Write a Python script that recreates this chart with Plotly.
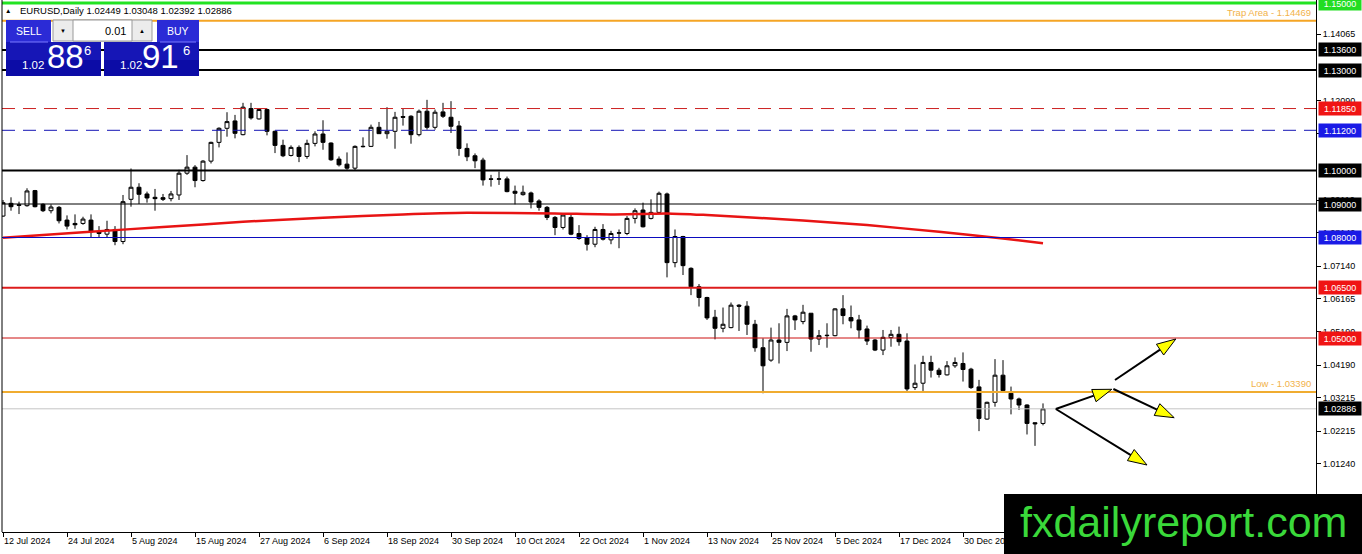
import plotly.graph_objects as go
import pandas as pd

# ---------------- data ----------------
header_text = "EURUSD,Daily 1.02449 1.03048 1.02392 1.02886"

trade_days = [d for d in pd.bdate_range("2024-07-12", "2025-01-14")
              if d.strftime("%m-%d") not in ("12-25", "01-01")]
bar_idx = list(range(len(trade_days)))

opens = [1.0864, 1.0902, 1.0898, 1.0895, 1.0940, 1.0899, 1.0880, 1.0890, 1.0852, 1.0842,
         1.0842, 1.0852, 1.0817, 1.0810, 1.0824, 1.0788, 1.0914, 1.0950, 1.0930, 1.0920,
         1.0919, 1.0916, 1.0927, 1.0992, 1.1010, 1.0970, 1.1028, 1.1084, 1.1126, 1.1148,
         1.1107, 1.1185, 1.1154, 1.1182, 1.1117, 1.1075, 1.1045, 1.1069, 1.1042, 1.1081,
         1.1109, 1.1082, 1.1034, 1.1019, 1.1007, 1.1071, 1.1072, 1.1129, 1.1110, 1.1117,
         1.1161, 1.1162, 1.1107, 1.1177, 1.1129, 1.1175, 1.1159, 1.1133, 1.1066, 1.1044,
         1.1031, 1.0975, 1.0974, 1.0975, 1.0938, 1.0928, 1.0933, 1.0909, 1.0890, 1.0860,
         1.0830, 1.0860, 1.0812, 1.0800, 1.0780, 1.0824, 1.0793, 1.0813, 1.0812, 1.0857,
         1.0882, 1.0857, 1.0875, 1.0930, 1.0725, 1.0803, 1.0708, 1.0653, 1.0621, 1.0562,
         1.0529, 1.0531, 1.0598, 1.0595, 1.0541, 1.0471, 1.0434, 1.0494, 1.0487, 1.0566,
         1.0549, 1.0574, 1.0497, 1.0507, 1.0507, 1.0587, 1.0561, 1.0554, 1.0527, 1.0494,
         1.0464, 1.0501, 1.0511, 1.0491, 1.0352, 1.0365, 1.0427, 1.0404, 1.0390, 1.0417,
         1.0424, 1.0407, 1.0354, 1.0258, 1.0308, 1.0389, 1.0335, 1.0318, 1.0300, 1.0247,
         1.02449]
highs = [1.0912, 1.0920, 1.0907, 1.0947, 1.0942, 1.0902, 1.0899, 1.0894, 1.0866, 1.0869,
         1.0862, 1.0869, 1.0834, 1.0850, 1.0834, 1.0927, 1.1006, 1.0962, 1.0937, 1.0945,
         1.0930, 1.0939, 1.1002, 1.1046, 1.1016, 1.1031, 1.1086, 1.1129, 1.1174, 1.1166,
         1.1202, 1.1202, 1.1185, 1.1185, 1.1119, 1.1092, 1.1075, 1.1075, 1.1092, 1.1117,
         1.1150, 1.1084, 1.1042, 1.1054, 1.1075, 1.1099, 1.1137, 1.1145, 1.1189, 1.1175,
         1.1184, 1.1165, 1.1182, 1.1211, 1.1182, 1.1202, 1.1207, 1.1148, 1.1081, 1.1051,
         1.1038, 1.0987, 1.0997, 1.0982, 1.0955, 1.0955, 1.0937, 1.0914, 1.0894, 1.0864,
         1.0870, 1.0867, 1.0837, 1.0807, 1.0832, 1.0840, 1.0820, 1.0824, 1.0864, 1.0887,
         1.0904, 1.0914, 1.0937, 1.0934, 1.0824, 1.0805, 1.0711, 1.0661, 1.0623, 1.0584,
         1.0591, 1.0606, 1.0601, 1.0610, 1.0554, 1.0499, 1.0531, 1.0544, 1.0587, 1.0569,
         1.0599, 1.0574, 1.0524, 1.0544, 1.0589, 1.0628, 1.0597, 1.0569, 1.0537, 1.0497,
         1.0524, 1.0524, 1.0534, 1.0514, 1.0421, 1.0447, 1.0447, 1.0411, 1.0431, 1.0442,
         1.0457, 1.0411, 1.0375, 1.0310, 1.0437, 1.0434, 1.0355, 1.0322, 1.0302, 1.0248,
         1.03048]
lows = [1.0862, 1.0880, 1.0870, 1.0892, 1.0890, 1.0876, 1.0872, 1.0842, 1.0824, 1.0826,
        1.0838, 1.0800, 1.0800, 1.0800, 1.0777, 1.0780, 1.0892, 1.0900, 1.0904, 1.0880,
        1.0909, 1.0908, 1.0912, 1.0987, 1.0950, 1.0967, 1.1021, 1.1069, 1.1101, 1.1096,
        1.1105, 1.1152, 1.1152, 1.1105, 1.1052, 1.1040, 1.1042, 1.1025, 1.1035, 1.1072,
        1.1062, 1.1029, 1.1012, 1.1002, 1.1000, 1.1069, 1.1070, 1.1109, 1.1095, 1.1065,
        1.1134, 1.1080, 1.1102, 1.1122, 1.1122, 1.1157, 1.1112, 1.1044, 1.1028, 1.1007,
        1.0955, 1.0952, 1.0957, 1.0935, 1.0899, 1.0925, 1.0887, 1.0880, 1.0852, 1.0807,
        1.0824, 1.0807, 1.0793, 1.0761, 1.0771, 1.0791, 1.0780, 1.0768, 1.0807, 1.0842,
        1.0830, 1.0854, 1.0872, 1.0681, 1.0711, 1.0688, 1.0628, 1.0594, 1.0554, 1.0496,
        1.0517, 1.0529, 1.0521, 1.0509, 1.0459, 1.0335, 1.0429, 1.0424, 1.0461, 1.0524,
        1.0541, 1.0459, 1.0479, 1.0471, 1.0505, 1.0541, 1.0529, 1.0499, 1.0479, 1.0461,
        1.0449, 1.0474, 1.0477, 1.0342, 1.0345, 1.0342, 1.0382, 1.0382, 1.0388, 1.0411,
        1.0370, 1.0348, 1.0222, 1.0256, 1.0295, 1.0338, 1.0272, 1.0285, 1.0212, 1.0178,
        1.02392]
closes = [1.0904, 1.0892, 1.0896, 1.0939, 1.0892, 1.0880, 1.0891, 1.0850, 1.0834, 1.0838,
          1.0855, 1.0817, 1.0812, 1.0824, 1.0788, 1.0907, 1.0950, 1.0929, 1.0918, 1.0916,
          1.0914, 1.0930, 1.0992, 1.1010, 1.0970, 1.1028, 1.1084, 1.1126, 1.1146, 1.1111,
          1.1189, 1.1157, 1.1182, 1.1117, 1.1075, 1.1044, 1.1069, 1.1042, 1.1081, 1.1109,
          1.1084, 1.1032, 1.1017, 1.1007, 1.1072, 1.1072, 1.1129, 1.1110, 1.1117, 1.1159,
          1.1159, 1.1107, 1.1177, 1.1129, 1.1174, 1.1162, 1.1132, 1.1066, 1.1041, 1.1029,
          1.0972, 1.0974, 1.0975, 1.0937, 1.0932, 1.0935, 1.0906, 1.0890, 1.0860, 1.0830,
          1.0867, 1.0810, 1.0797, 1.0780, 1.0824, 1.0795, 1.0812, 1.0814, 1.0857, 1.0880,
          1.0832, 1.0875, 1.0932, 1.0725, 1.0803, 1.0716, 1.0653, 1.0621, 1.0560, 1.0529,
          1.0541, 1.0598, 1.0595, 1.0541, 1.0471, 1.0417, 1.0494, 1.0487, 1.0566, 1.0554,
          1.0577, 1.0497, 1.0507, 1.0508, 1.0587, 1.0567, 1.0551, 1.0524, 1.0491, 1.0464,
          1.0502, 1.0511, 1.0489, 1.0348, 1.0365, 1.0427, 1.0404, 1.0391, 1.0417, 1.0427,
          1.0406, 1.0352, 1.0260, 1.0308, 1.0389, 1.0343, 1.0318, 1.0300, 1.0245, 1.0244,
          1.02886]

# moving average (read at a few bars)
ma_bar = [0, 10, 20, 30, 40, 50, 58, 69, 76, 83, 88, 100, 108, 117, 125, 130]
ma_val = [1.0799, 1.0816, 1.0831, 1.0847, 1.0859, 1.0869, 1.0874, 1.0872, 1.0869,
          1.0872, 1.0867, 1.0851, 1.0837, 1.0817, 1.0797, 1.0783]

# horizontal levels
level_price = [1.15000, 1.14469, 1.13600, 1.13000, 1.11850, 1.11200, 1.10000,
               1.09000, 1.08000, 1.06500, 1.05000, 1.03390, 1.02886]
level_color = ["#22e322", "#f5a524", "#000000", "#000000", "#cc2020", "#1414b4",
               "#000000", "#000000", "#0b0bbf", "#dd1c1c", "#cc1111", "#f0ac30", "#c4c4c4"]
level_width = [3, 2, 2, 2, 1, 1, 2, 1, 1, 2, 1, 2, 1]
level_dash = ["solid", "solid", "solid", "solid", "13px,8px", "13px,8px", "solid",
              "solid", "solid", "solid", "solid", "solid", "solid"]
level_box = ["#22dd22", None, "#000000", "#000000", "#f01414", "#1a1ae6", "#000000",
             "#000000", "#1a1ae6", "#f01414", "#f01414", None, "#000000"]
level_note = {1.14469: "Trap Area - 1.14469", 1.03390: "Low - 1.03390"}

y_ticks = [1.14065, 1.12090, 1.11095, 1.09110, 1.08140, 1.07140,
           1.06165, 1.05190, 1.04190, 1.03215, 1.02215, 1.01240]

# projected paths (bar index, price)
arrows = [((131.6, 1.02881), (138.6, 1.03469)),
          ((139.0, 1.03746), (146.6, 1.04970)),
          ((138.8, 1.03478), (146.4, 1.02621)),
          ((131.6, 1.02881), (143.0, 1.01209))]

# ---------------- layout geometry ----------------
W, H = 1362, 554
PL, PR, PT, PB = 2, 1316, 0, 532
XR = [-0.125, 164.125]
YR = [0.99209, 1.15090]
FONT = "Liberation Sans, Arial, sans-serif"

def fx(X):
    return (X - PL) / (PR - PL)

def fy(Y):
    return (PB - Y) / (PB - PT)

def to_px(i, p):
    X = PL + (i - XR[0]) / (XR[1] - XR[0]) * (PR - PL)
    Y = PB - (p - YR[0]) / (YR[1] - YR[0]) * (PB - PT)
    return X, Y

def to_data(X, Y):
    i = XR[0] + (X - PL) / (PR - PL) * (XR[1] - XR[0])
    p = YR[0] + (PB - Y) / (PB - PT) * (YR[1] - YR[0])
    return i, p

fig = go.Figure()

fig.add_trace(go.Scatter(x=ma_bar, y=ma_val, mode="lines",
                         line=dict(color="#e81414", width=2.5, shape="spline", smoothing=0.6),
                         hoverinfo="skip", showlegend=False))

fig.add_trace(go.Candlestick(
    x=bar_idx, open=opens, high=highs, low=lows, close=closes,
    increasing=dict(line=dict(color="black", width=1), fillcolor="white"),
    decreasing=dict(line=dict(color="black", width=1), fillcolor="black"),
    whiskerwidth=0, showlegend=False, hoverinfo="skip"))

shapes = []
annotations = []

# levels
for p, c, w, d, box in zip(level_price, level_color, level_width, level_dash, level_box):
    shapes.append(dict(type="line", xref="paper", yref="y", x0=0, x1=1, y0=p, y1=p,
                       line=dict(color=c, width=w, dash=d), layer="above"))
    if box:
        annotations.append(dict(xref="paper", yref="y", x=1, y=p, xanchor="left",
                                yanchor="middle", xshift=2, text=f"{p:.5f}",
                                showarrow=False, bgcolor=box, width=40, height=11,
                                borderpad=1, align="center",
                                font=dict(family=FONT, size=9, color="white")))
    if p in level_note:
        annotations.append(dict(xref="paper", yref="y", x=1, y=p, xanchor="right",
                                yanchor="bottom", xshift=-3, yshift=1, text=level_note[p],
                                showarrow=False,
                                font=dict(family=FONT, size=9.5, color="#f2b24a")))

# left border
shapes.append(dict(type="line", xref="paper", yref="paper", x0=0, x1=0, y0=0, y1=1,
                   line=dict(color="black", width=1), layer="above"))

# arrows
for (a, b) in arrows:
    x0, y0 = to_px(*a)
    x1, y1 = to_px(*b)
    dx, dy = x1 - x0, y1 - y0
    L = (dx * dx + dy * dy) ** 0.5
    ux, uy = dx / L, dy / L
    nx, ny = -uy, ux
    hl, hw = 19, 6.5
    bx, by = x1 - ux * hl, y1 - uy * hl
    p1 = to_data(x1, y1)
    p2 = to_data(bx + nx * hw, by + ny * hw)
    p3 = to_data(bx - nx * hw, by - ny * hw)
    pb = to_data(bx, by)
    shapes.append(dict(type="line", xref="x", yref="y", x0=a[0], y0=a[1], x1=pb[0], y1=pb[1],
                       line=dict(color="black", width=2), layer="above"))
    shapes.append(dict(type="path", xref="x", yref="y",
                       path=f"M {p1[0]},{p1[1]} L {p2[0]},{p2[1]} L {p3[0]},{p3[1]} Z",
                       fillcolor="#ffff00", line=dict(color="black", width=1), layer="above"))

# trading panel
def rect(X0, Y0, X1, Y1, fill, line=None, lw=0):
    shapes.append(dict(type="rect", xref="paper", yref="paper", x0=fx(X0), x1=fx(X1),
                       y0=fy(Y1), y1=fy(Y0), fillcolor=fill,
                       line=dict(color=line or fill, width=lw), layer="above"))

def text(X, Y, s, size, color="white", anchor="center", family=FONT):
    annotations.append(dict(xref="paper", yref="paper", x=fx(X), y=fy(Y), text=s,
                            showarrow=False, xanchor=anchor, yanchor="middle",
                            font=dict(family=family, size=size, color=color)))

rect(6, 20, 51, 42, "#2b2bd6")
rect(157, 20, 199, 42, "#2b2bd6")
rect(6, 42, 101, 76, "#1616b6")
rect(104, 42, 199, 76, "#1616b6")
rect(6, 60, 101, 76, "#0c0ca6")
rect(104, 60, 199, 76, "#0c0ca6")
rect(53, 20, 152, 41, "#ececec", "#9a9a9a", 1)
rect(73, 20, 132, 41, "#ffffff", "#9a9a9a", 1)
shapes.append(dict(type="line", xref="paper", yref="paper", x0=fx(10), x1=fx(48),
                   y0=fy(42), y1=fy(42), line=dict(color="#7a7aff", width=1), layer="above"))
shapes.append(dict(type="line", xref="paper", yref="paper", x0=fx(160), x1=fx(196),
                   y0=fy(42), y1=fy(42), line=dict(color="#7a7aff", width=1), layer="above"))

text(28.5, 31, "SELL", 10.5)
text(178, 31, "BUY", 10.5)
text(63, 31, "▼", 6, "black")
text(142, 31, "▲", 6, "black")
text(128, 31, "0.01", 11, "black", "right")
text(32.5, 65, "1.02", 11.5)
text(65.5, 56, "88", 33)
text(87.5, 51, "6", 13)
text(130.5, 65, "1.02", 11.5)
text(160.5, 56, "91", 33)
text(186, 51, "6", 13)

# header
text(8, 11, "▲", 6.5, "black")
text(18, 11, header_text, 9.5, "black", "left")

# watermark
rect(1004, 494, 1362, 554, "#000000")
text(1183, 522, "fxdailyreport.com", 43, "#3ad83a")

tick_idx = bar_idx[:121:8]
tick_text = [f"{trade_days[i].day} {trade_days[i]:%b %Y}" for i in tick_idx]

fig.update_layout(
    width=W, height=H,
    margin=dict(l=PL, r=W - PR, t=PT, b=H - PB),
    paper_bgcolor="white", plot_bgcolor="white",
    shapes=shapes, annotations=annotations,
    showlegend=False, hovermode=False,
    xaxis=dict(range=XR, showgrid=False, zeroline=False, showline=True,
               linecolor="black", linewidth=1, ticks="outside", ticklen=4,
               tickcolor="black", tickvals=tick_idx, ticktext=tick_text,
               ticklabelposition="outside right",
               tickfont=dict(family=FONT, size=9, color="black"),
               rangeslider=dict(visible=False), fixedrange=True),
    yaxis=dict(range=YR, side="right", showgrid=False, zeroline=False, showline=True,
               linecolor="black", linewidth=1, ticks="outside", ticklen=4,
               tickcolor="black", tickvals=y_ticks,
               ticktext=[f"{v:.5f}" for v in y_ticks],
               tickfont=dict(family=FONT, size=9, color="black"), fixedrange=True),
)

fig.write_html("out.html", config={"displayModeBar": False},
               post_script="document.body.style.margin='0';document.body.style.overflow='hidden';")
